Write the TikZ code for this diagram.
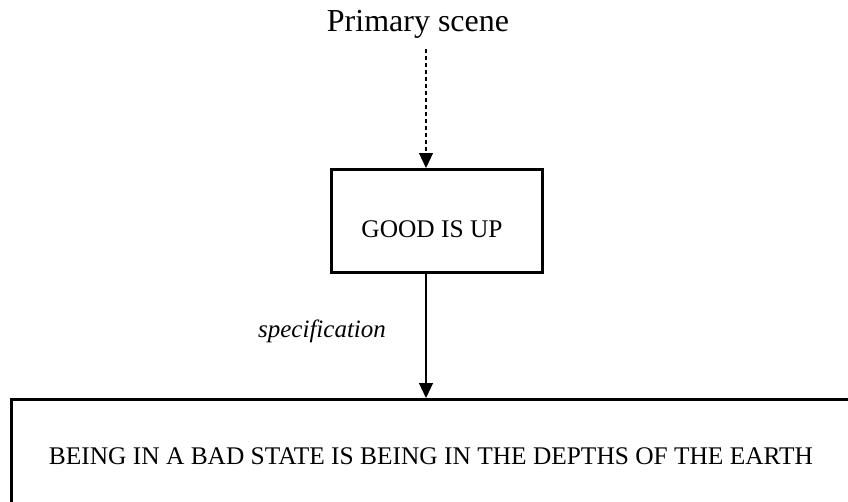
\documentclass[tikz,border=0pt]{standalone}
\usepackage{fontspec}
\setmainfont{Liberation Serif}
\usetikzlibrary{arrows.meta}
\begin{document}
\begin{tikzpicture}[x=1pt,y=-1pt,
  framebox/.style={draw, line width=3pt, inner sep=0pt},
  boxtext/.style={anchor=base, inner sep=0pt, font=\fontsize{25.4}{30}\selectfont},
  titletext/.style={anchor=base, inner sep=0pt, font=\fontsize{32}{38}\selectfont},
  linktext/.style={anchor=base, inner sep=0pt, font=\fontsize{25}{30}\selectfont\itshape},
  link/.style={line width=1.1pt, -{Triangle[length=15pt,width=14pt]}},
  dashlink/.style={link, dash pattern=on 4pt off 3pt}
]
\useasboundingbox (0,0) rectangle (848,501);

% heading
\node[titletext] (primary) at (418,31) {Primary scene};

% upper frame and its label
\node[framebox, minimum width=211pt, minimum height=103pt] (goodbox) at (437,221) {};
\node[boxtext] (goodtext) at (432,237) {GOOD IS UP};

% lower frame, running off the right and bottom edges
\node[framebox, minimum width=880pt, minimum height=140pt] (badbox) at (451.5,469.5) {};
\node[boxtext] (badtext) at (431,464) {BEING IN A BAD STATE IS BEING IN THE DEPTHS OF THE EARTH};

% connectors
\coordinate (dashstart) at (426,49);
\draw[dashlink] (dashstart) -- (dashstart |- goodbox.north);
\draw[link] (goodbox.south -| dashstart) -- (badbox.north -| dashstart);

\node[linktext] (spec) at (322,337) {specification};
\end{tikzpicture}
\end{document}
